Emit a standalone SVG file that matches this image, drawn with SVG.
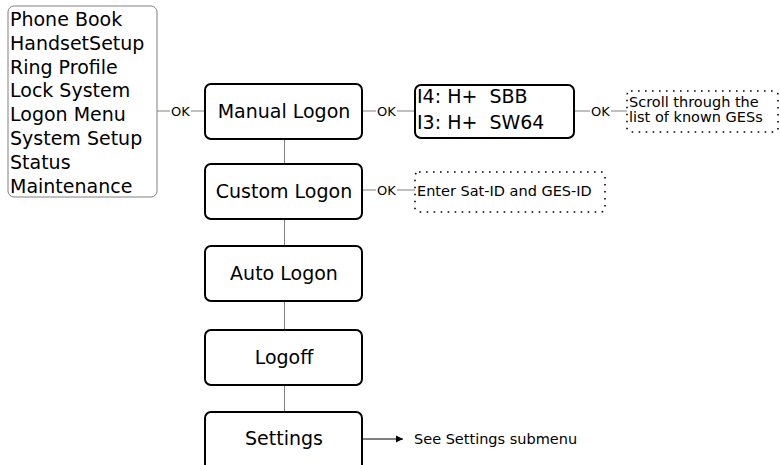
<svg xmlns="http://www.w3.org/2000/svg" width="780" height="465" viewBox="0 0 780 465">
<defs>
<style>
text{font-family:"DejaVu Sans",Verdana,sans-serif;fill:#000}
.big{font-size:19px}
.sm{font-size:14.5px}
.ok{font-size:13px}
.node{fill:#fff;stroke:#000;stroke-width:2}
.menu{fill:#fff;stroke:#808080;stroke-width:1}
.dot{fill:#fff;stroke:#000;stroke-width:1.6;stroke-dasharray:1.6 5.4}
.ln{stroke:#808080;stroke-width:1;fill:none}
.ar{stroke:#000;stroke-width:1;fill:none}
</style>
<marker id="arr" markerWidth="8" markerHeight="8" refX="7" refY="4" orient="auto" markerUnits="userSpaceOnUse">
<path d="M0,0.5 L7,4 L0,7.5 Z" fill="#000"/>
</marker>
</defs>
<g id="connectors">
<line class="ln" x1="157" y1="111" x2="170" y2="111"/>
<line class="ln" x1="191" y1="111" x2="205" y2="111"/>
<line class="ln" x1="362" y1="111" x2="376" y2="111"/>
<line class="ln" x1="397" y1="111" x2="415" y2="111"/>
<line class="ln" x1="574" y1="111" x2="590" y2="111"/>
<line class="ln" x1="611" y1="111" x2="627" y2="111"/>
<line class="ln" x1="362" y1="190" x2="376" y2="190"/>
<line class="ln" x1="397" y1="190" x2="415" y2="190"/>
<line class="ln" x1="284.5" y1="139" x2="284.5" y2="164"/>
<line class="ln" x1="284.5" y1="219" x2="284.5" y2="246"/>
<line class="ln" x1="284.5" y1="301" x2="284.5" y2="330"/>
<line class="ln" x1="284.5" y1="385" x2="284.5" y2="412"/>
<line class="ar" x1="363" y1="439" x2="403" y2="439" marker-end="url(#arr)"/>
<text class="ok" x="171" y="116">OK</text>
<text class="ok" x="377" y="116">OK</text>
<text class="ok" x="591" y="116">OK</text>
<text class="ok" x="377" y="195">OK</text>
<text class="sm" x="414" y="444">See Settings submenu</text>
</g>
<g id="menu">
<rect class="menu" x="8" y="6" width="149" height="191" rx="6"/>
<text class="big" x="10" y="26">Phone Book</text>
<text class="big" x="10" y="49.8">HandsetSetup</text>
<text class="big" x="10" y="73.6">Ring Profile</text>
<text class="big" x="10" y="97.4">Lock System</text>
<text class="big" x="10" y="121.2">Logon Menu</text>
<text class="big" x="10" y="145">System Setup</text>
<text class="big" x="10" y="168.8">Status</text>
<text class="big" x="10" y="192.6">Maintenance</text>
</g>
<g id="manual-logon">
<rect class="node" x="205" y="84" width="157" height="55" rx="6"/>
<text class="big" x="284" y="118" text-anchor="middle">Manual Logon</text>
</g>
<g id="custom-logon">
<rect class="node" x="205" y="164" width="157" height="55" rx="6"/>
<text class="big" x="284" y="198" text-anchor="middle">Custom Logon</text>
</g>
<g id="auto-logon">
<rect class="node" x="205" y="246" width="157" height="55" rx="6"/>
<text class="big" x="284" y="280" text-anchor="middle">Auto Logon</text>
</g>
<g id="logoff">
<rect class="node" x="205" y="330" width="157" height="55" rx="6"/>
<text class="big" x="284" y="364" text-anchor="middle">Logoff</text>
</g>
<g id="settings">
<rect class="node" x="205" y="412" width="157" height="70" rx="6"/>
<text class="big" x="284" y="445" text-anchor="middle">Settings</text>
</g>
<g id="ges-list">
<rect class="node" x="415" y="85" width="159" height="53" rx="6"/>
<text class="big" x="417" y="103" xml:space="preserve">I4: H+  SBB</text>
<text class="big" x="417" y="129" xml:space="preserve">I3: H+  SW64</text>
</g>
<g id="scroll-note">
<rect class="dot" x="627" y="91" width="151" height="41" rx="4"/>
<text class="sm" x="629" y="107">Scroll through the</text>
<text class="sm" x="629" y="122">list of known GESs</text>
</g>
<g id="enter-note">
<rect class="dot" x="415" y="172" width="190" height="40" rx="4"/>
<text class="sm" x="417" y="196">Enter Sat-ID and GES-ID</text>
</g>
</svg>
